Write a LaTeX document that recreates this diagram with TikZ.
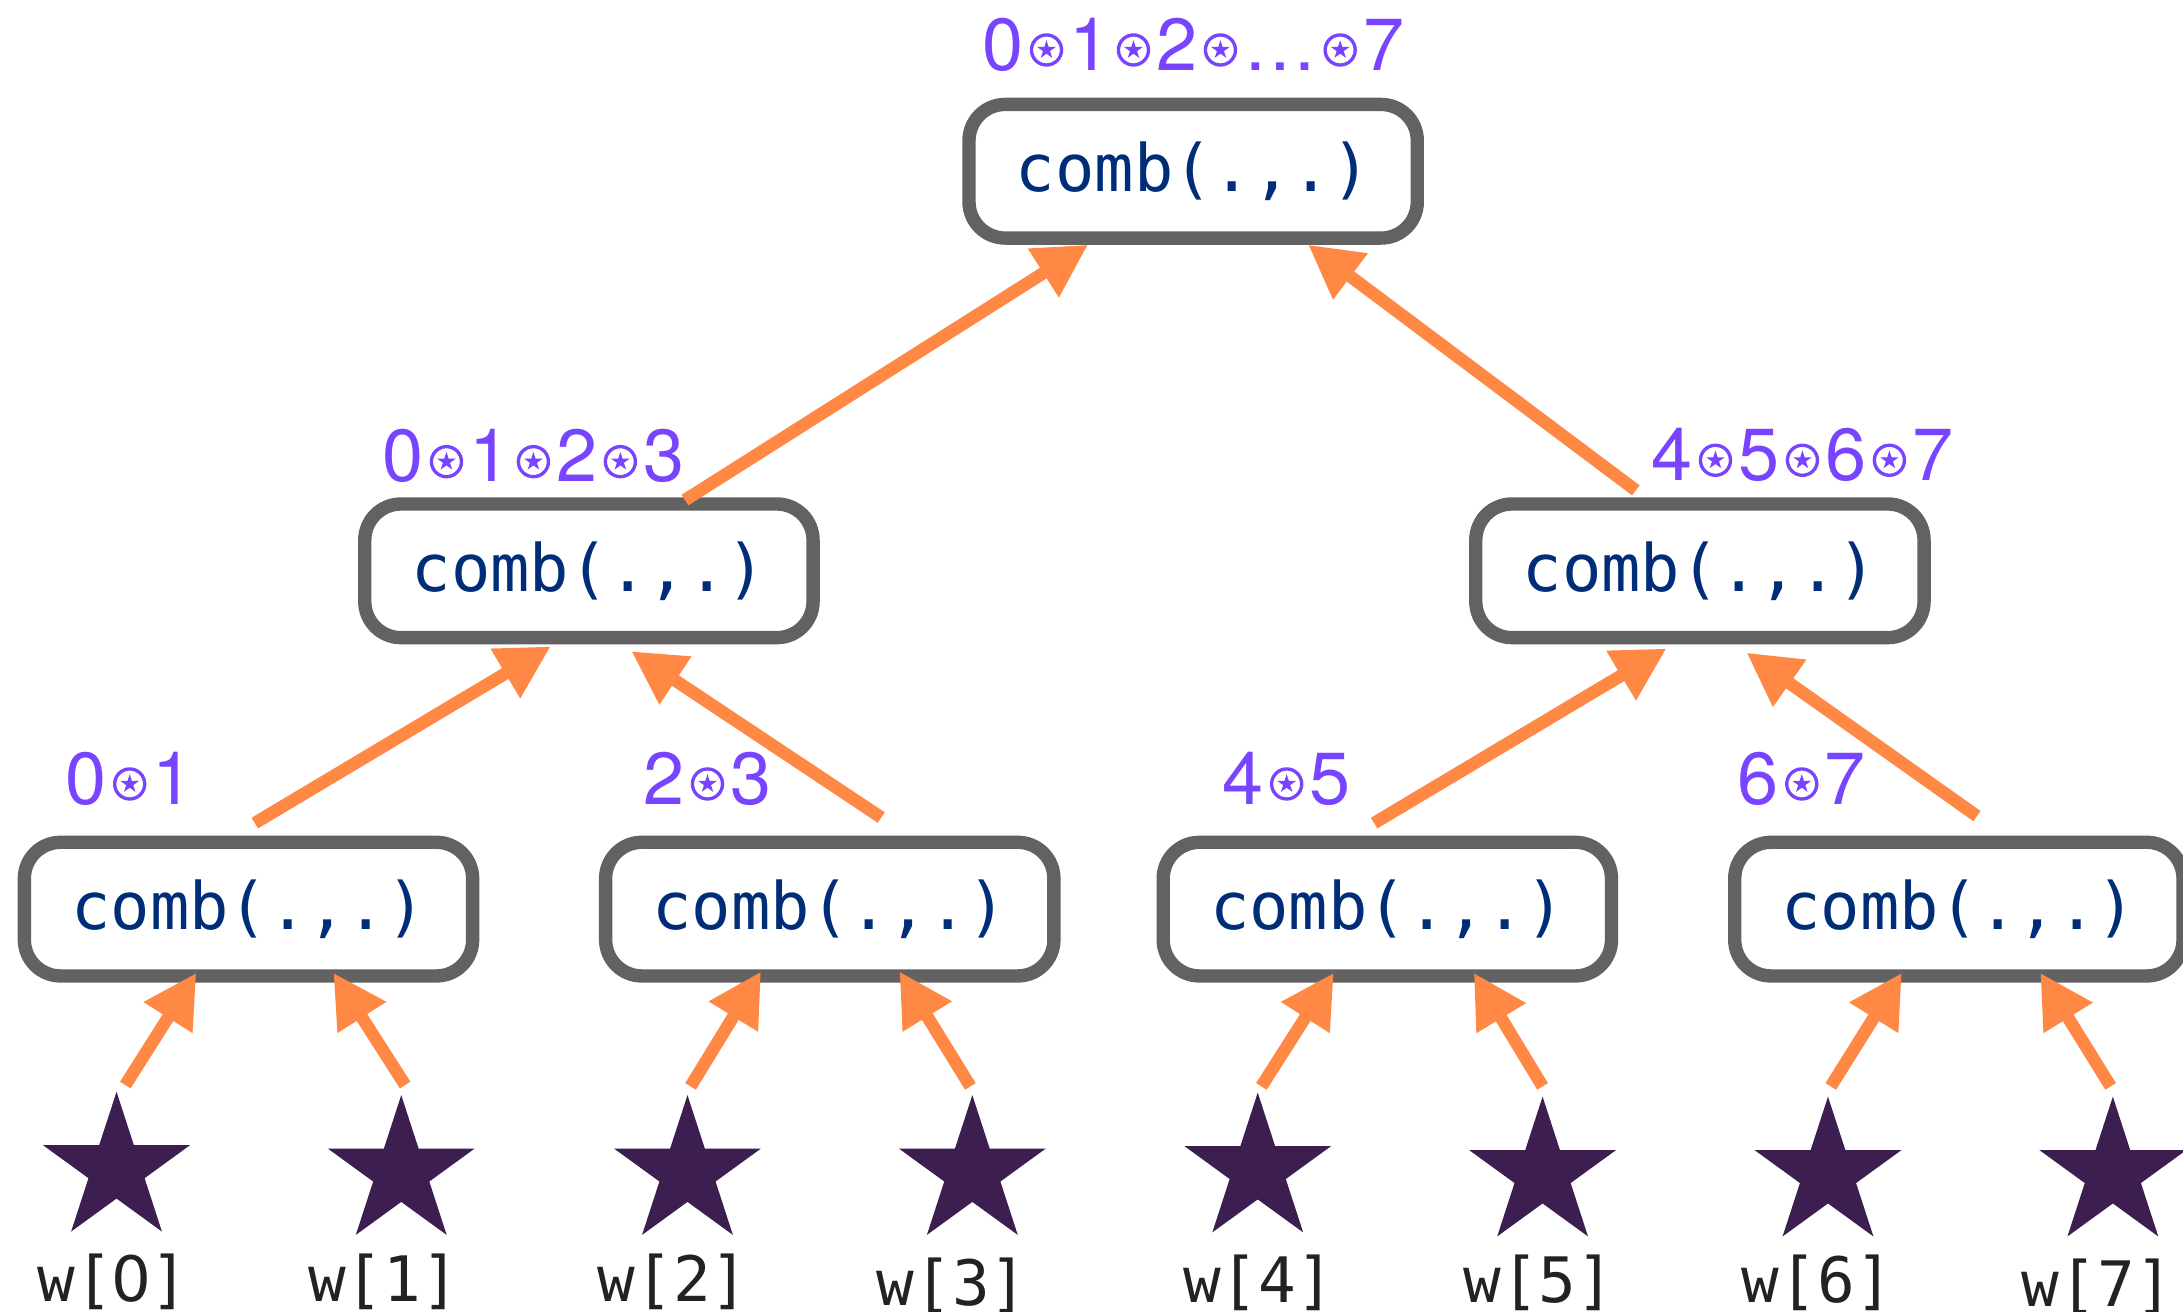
\documentclass[tikz,border=0pt]{standalone}
\usepackage{fontspec}
\usetikzlibrary{arrows.meta,shapes.geometric,calc}
\newfontfamily\monofont{DejaVu Sans Mono}
\newfontfamily\plainzerofont{DejaVu Sans}
\newfontfamily\lblfont{TeX Gyre Heros}
\definecolor{arrorange}{RGB}{255,136,68}
\definecolor{boxgray}{RGB}{98,98,98}
\definecolor{combnavy}{RGB}{0,45,120}
\definecolor{lblpurple}{RGB}{120,68,255}
\definecolor{starpurple}{RGB}{60,31,80}
\definecolor{wtext}{RGB}{34,34,34}
\newcommand\cstar{\hspace{4.5pt}\tikz[baseline={(0pt,-14.4pt)}]{\draw[draw=lblpurple,line width=2.4pt] (0pt,0pt) circle[radius=10.8pt]; \fill[lblpurple] (90:7pt)--(126:2.67pt)--(162:7pt)--(198:2.67pt)--(234:7pt)--(270:2.67pt)--(306:7pt)--(342:2.67pt)--(18:7pt)--(54:2.67pt)--cycle;}\hspace{4.5pt}}
\newcommand\plainzero{\makebox[0.602em]{\plainzerofont 0}}
\begin{document}
\begin{tikzpicture}[x=1pt,y=-1pt,
 combbox/.style={draw=boxgray, line width=9.6pt, fill=white, rounded corners=26pt, minimum width=322pt, minimum height=96pt, inner sep=0pt, text=combnavy, font=\monofont\fontsize{47}{50}\selectfont},
 lbl/.style={anchor=base west, inner sep=0pt, text=lblpurple, font=\lblfont\fontsize{53}{56}\selectfont},
 wstar/.style={star, star points=5, star point ratio=2.618, minimum size=111pt, inner sep=0pt, fill=starpurple},
 wlbl/.style={anchor=base, inner sep=0pt, text=wtext, font=\monofont\fontsize{45}{48}\selectfont},
 arr/.style={draw=arrorange, line width=9pt, -{Triangle[length=38pt,width=39pt]}}]
\fill[white] (0,0) rectangle (1568,942);
\useasboundingbox (0,0) rectangle (1568,942);
% boxes
\node[combbox] (T) at (857,123) {comb(.,.)};
\node[combbox] (ML) at (423,410) {comb(.,.)};
\node[combbox] (MR) at (1221,410) {comb(.,.)};
\node[combbox] (B1) at (178.5,653) {comb(.,.)};
\node[combbox] (B2) at (596,653) {comb(.,.)};
\node[combbox] (B3) at (996.5,653) {comb(.,.)};
\node[combbox] (B4) at (1407,653) {comb(.,.)};
% labels
\node[lbl] (LT) at (705.5,50.3) {0\cstar 1\cstar 2\cstar …\cstar 7};
\node[lbl] (L0123) at (274.5,346) {0\cstar 1\cstar 2\cstar 3};
\node[lbl] (L4567) at (1186,345) {4\cstar 5\cstar 6\cstar 7};
\node[lbl] (L01) at (47,577.5) {0\cstar 1};
\node[lbl] (L23) at (462,577.5) {2\cstar 3};
\node[lbl] (L45) at (878,577.5) {4\cstar 5};
\node[lbl] (L67) at (1248,577.5) {6\cstar 7};
% stars
\node[wstar] (s0) at (83.7,839.7) {};
\node[wstar] (s1) at (288.2,842.1) {};
\node[wstar] (s2) at (493.8,842.1) {};
\node[wstar] (s3) at (698.4,842.1) {};
\node[wstar] (s4) at (903.4,840.3) {};
\node[wstar] (s5) at (1108,843.2) {};
\node[wstar] (s6) at (1313,843.2) {};
\node[wstar] (s7) at (1517.6,843.2) {};
% w labels
\node[wlbl] (w0) at (81,935) {w[\plainzero]};
\node[wlbl] (w1) at (275.6,935) {w[1]};
\node[wlbl] (w2) at (483.5,935) {w[2]};
\node[wlbl] (w3) at (683.8,937.4) {w[3]};
\node[wlbl] (w4) at (904,935.7) {w[4]};
\node[wlbl] (w5) at (1105.4,935.7) {w[5]};
\node[wlbl] (w6) at (1305.4,935.7) {w[6]};
\node[wlbl] (w7) at (1506.5,938.6) {w[7]};
% arrows: leaves
\draw[arr] ($(s0.north)+(6.3,-4.2)$) -- ($(B1.south)+(-37.5,-7)$);
\draw[arr] ($(s1.north)+(2.8,-6.6)$) -- ($(B1.south)+(61,-7)$);
\draw[arr] ($(s2.north)+(2.2,-5.6)$) -- ($(B2.south)+(-49.4,-8)$);
\draw[arr] ($(s3.north)+(-1.4,-5.6)$) -- ($(B2.south)+(50.1,-8)$);
\draw[arr] ($(s4.north)+(2.6,-3.8)$) -- ($(B3.south)+(-38.5,-7)$);
\draw[arr] ($(s5.north)+(0,-6.7)$) -- ($(B3.south)+(62.1,-7)$);
\draw[arr] ($(s6.north)+(2,-6.7)$) -- ($(B4.south)+(-41,-7)$);
\draw[arr] ($(s7.north)+(-1.6,-6.7)$) -- ($(B4.south)+(58.5,-7)$);
% arrows: middle level
\draw[arr] ($(B1.north)+(4.5,-9)$) -- ($(ML.south)+(-27.4,1.5)$);
\draw[arr] ($(B2.north)+(37,-13)$) -- ($(ML.south)+(30.5,5)$);
\draw[arr] ($(B3.north)+(-9.5,-9)$) -- ($(MR.south)+(-24,3)$);
\draw[arr] ($(B4.north)+(13,-14)$) -- ($(MR.south)+(33.5,6)$);
% arrows: top level
\draw[arr] ($(ML.north)+(69,2)$) -- ($(T.south)+(-75.5,0)$);
\draw[arr] ($(MR.north)+(-46,-5)$) -- ($(T.south)+(82.6,0)$);
\end{tikzpicture}
\end{document}
